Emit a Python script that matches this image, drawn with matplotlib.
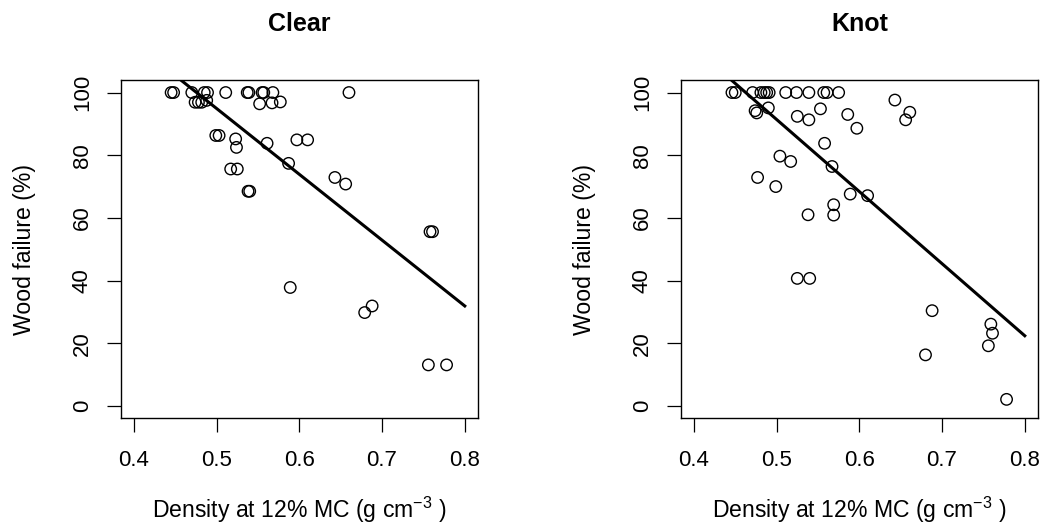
import numpy as np
import matplotlib
matplotlib.use("Agg")
import matplotlib.pyplot as plt

plt.rcParams["font.family"] = ["Liberation Sans", "DejaVu Sans"]
plt.rcParams["mathtext.fontset"] = "custom"
plt.rcParams["mathtext.rm"] = "Liberation Sans"
plt.rcParams["mathtext.it"] = "Liberation Sans:italic"

# Clear specimens: density (g cm-3) vs wood failure (%)
clear_density = [0.445, 0.448, 0.470, 0.485, 0.489, 0.511, 0.537, 0.539, 0.555,
                 0.557, 0.568, 0.660, 0.474, 0.478, 0.482, 0.488, 0.552, 0.567,
                 0.577, 0.499, 0.503, 0.523, 0.524, 0.561, 0.597, 0.610, 0.587,
                 0.517, 0.525, 0.643, 0.656, 0.538, 0.540, 0.758, 0.761, 0.589,
                 0.679, 0.688, 0.756, 0.778]
clear_failure = [100, 100, 100, 100, 100, 100, 100, 100, 100,
                 100, 100, 100, 96.9, 96.9, 96.9, 97.5, 96.4, 96.7,
                 97.0, 86.3, 86.3, 85.2, 82.5, 83.8, 84.9, 84.9, 77.4,
                 75.6, 75.6, 72.9, 70.8, 68.5, 68.5, 55.6, 55.6, 37.8,
                 29.8, 31.9, 13.1, 13.1]

# Knot specimens
knot_density = [0.446, 0.450, 0.471, 0.481, 0.485, 0.488, 0.491, 0.511, 0.524,
                0.539, 0.557, 0.561, 0.575, 0.643, 0.490, 0.474, 0.476, 0.553,
                0.525, 0.539, 0.586, 0.661, 0.656, 0.597, 0.558, 0.504, 0.517,
                0.567, 0.477, 0.499, 0.589, 0.610, 0.569, 0.538, 0.569, 0.525,
                0.540, 0.688, 0.680, 0.759, 0.761, 0.756, 0.778]
knot_failure = [100, 100, 100, 100, 100, 100, 100, 100, 100,
                100, 100, 100, 100, 97.6, 95.1, 94.2, 93.5, 94.8,
                92.4, 91.3, 93.0, 93.7, 91.3, 88.6, 83.8, 79.7, 78.0,
                76.4, 72.9, 70.0, 67.6, 67.1, 64.2, 61.0, 60.9, 40.7,
                40.7, 30.4, 16.3, 26.1, 23.2, 19.2, 2.1]

# fitted lines (intercept, slope)
clear_fit = (199.9, -210.0)
knot_fit = (206.4, -230.0)
fit_range = [0.4, 0.8]

x_ticks = [0.4, 0.5, 0.6, 0.7, 0.8]
y_ticks = [0, 20, 40, 60, 80, 100]

panels = [
    ("Clear", clear_density, clear_failure, clear_fit, 0.1157),
    ("Knot", knot_density, knot_failure, knot_fit, 0.6526),
]

fig = plt.figure(figsize=(10.43, 5.27), dpi=100)

for title, xs, ys, fit, left in panels:
    ax = fig.add_axes([left, 0.2059, 0.3426, 0.6423])
    ax.scatter(xs, ys, s=68, facecolors="none", edgecolors="black",
               linewidths=1.0, zorder=3)
    fx = np.array(fit_range)
    ax.plot(fx, fit[0] + fit[1] * fx, color="black", linewidth=2.2, zorder=4)

    ax.set_xlim(0.384, 0.816)
    ax.set_ylim(-4, 104)
    ax.set_xticks(x_ticks)
    ax.set_xticklabels([str(t) for t in x_ticks])
    ax.set_yticks(y_ticks)
    ax.tick_params(axis="both", direction="out", length=10, width=0.9,
                   labelsize=16, color="black")
    ax.tick_params(axis="x", pad=13)
    ax.tick_params(axis="y", pad=10, labelrotation=90)
    for lab in ax.get_yticklabels():
        lab.set_va("center")
    for sp in ax.spines.values():
        sp.set_linewidth(1.0)

    ax.set_title(title, fontsize=18, fontweight="bold", pad=35)
    ax.set_xlabel(r"Density at 12% MC (g cm$^{-3}$ )", fontsize=16.6)
    ax.xaxis.set_label_coords(0.5, -0.294)
    ax.xaxis.label.set_va("baseline")
    ax.set_ylabel("Wood failure (%)", fontsize=16.6)
    ax.yaxis.set_label_coords(-0.238, 0.5)

fig.savefig("out.png", dpi=100)
